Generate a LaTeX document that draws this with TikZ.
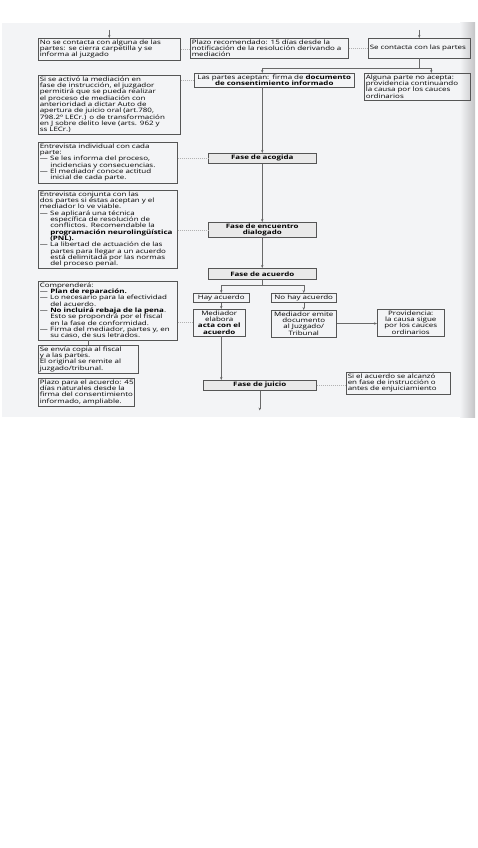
\documentclass[tikz,border=0pt]{standalone}
\usepackage{fontspec}
\setmainfont{Open Sans}[FakeStretch=1.33]
\usetikzlibrary{positioning,arrows.meta,calc}
\definecolor{fondo}{RGB}{243,244,246}
\definecolor{borde}{RGB}{85,85,85}
\definecolor{linea}{RGB}{105,105,105}
\definecolor{sombra}{RGB}{196,196,198}
\newcommand{\raya}{\makebox[1.75em][l]{—}}
\newcommand{\sang}{\hspace*{1.75em}}

\begin{document}
\begin{tikzpicture}[x=1pt,y=-1pt,
  caja/.style={draw=borde,line width=.5pt,anchor=north west,align=left,inner xsep=1.5pt,inner ysep=1.5pt,font=\fontsize{6}{6.3}\selectfont},
  centro/.style={caja,align=center},
  fase/.style={centro,fill=gray!17,font=\fontsize{6}{6.3}\selectfont\bfseries},
  flecha/.style={draw=linea,line width=.5pt,-{Stealth[length=3pt,width=2.4pt]}},
  trazo/.style={draw=linea,line width=.5pt},
  nota/.style={draw=gray!60,line width=.4pt,dash pattern=on 1pt off 1pt}]
\useasboundingbox (0,0) rectangle (477,848);
% fondo del escaneo
\fill[fondo] (2,23) rectangle (475,417);
\shade[left color=fondo,right color=sombra] (460,23) rectangle (475,417);

% fila superior
\node[caja,text width=139pt] (nocont) at (38,38) {\mbox{No se contacta con alguna de las}\\partes: se cierra carpetilla y se\\informa al juzgado};
\node[caja,text width=155pt] (plazo) at (190,38) {Plazo recomendado: 15 días desde la\\\mbox{notificación de la resolución derivando a}\\mediación};
\node[caja,text width=99pt,minimum height=20pt] (contacta) at (368,38) {\mbox{Se contacta con las partes}};

\node[caja,text width=139pt] (activo) at (38,75) {Si se activó la mediación en\\fase de instrucción, el juzgador\\permitirá que se pueda realizar\\el proceso de mediación con\\anterioridad a dictar Auto de\\apertura de juicio oral (art.780,\\\mbox{798.2º LECr.) o de transformación}\\en J sobre delito leve (arts. 962 y\\ss LECr.)};
\node[centro,text width=157pt] (aceptan) at (194,73) {\mbox{Las partes aceptan: firma de \textbf{documento}}\\\textbf{de consentimiento informado}};
\node[caja,text width=103pt] (noacepta) at (364,73) {Alguna parte no acepta:\\\mbox{providencia continuando}\\la causa por los cauces\\ordinarios};

% fases
\node[caja,text width=136pt] (individual) at (38,142) {Entrevista individual con cada\\parte:\\\raya Se les informa del proceso,\\\sang\mbox{incidencias y consecuencias.}\\\raya El mediador conoce actitud\\\sang inicial de cada parte.};
\node[fase,text width=105pt,minimum height=10pt] (acogida) at (208,153) {Fase de acogida};

\node[caja,text width=136pt] (conjunta) at (38,190) {Entrevista conjunta con las\\\mbox{dos partes si éstas aceptan y el}\\mediador lo ve viable.\\\raya Se aplicará una técnica\\\sang específica de resolución de\\\sang conflictos. Recomendable la\\\sang\mbox{\textbf{programación neurolingüística}}\\\sang \textbf{(PNL).}\\\raya\mbox{La libertad de actuación de las}\\\sang\mbox{partes para llegar a un acuerdo}\\\sang\mbox{está delimitada por las normas}\\\sang del proceso penal.};
\node[fase,text width=105pt] (encuentro) at (208,222) {Fase de encuentro\\dialogado};

\node[fase,text width=105pt,minimum height=11pt] (acuerdo) at (208,268) {Fase de acuerdo};
\node[caja,text width=136pt] (comprende) at (38,281) {Comprenderá:\\\raya \textbf{Plan de reparación.}\\\raya\mbox{Lo necesario para la efectividad}\\\sang del acuerdo.\\\raya\mbox{\textbf{No incluirá rebaja de la pena}.}\\\sang\mbox{Esto se propondrá por el fiscal}\\\sang en la fase de conformidad.\\\raya\mbox{Firma del mediador, partes y, en}\\\sang su caso, de sus letrados.};

\node[centro,text width=53pt] (hay) at (193,293) {Hay acuerdo};
\node[centro,text width=62pt] (nohay) at (271,293) {\mbox{No hay acuerdo}};
\node[centro,text width=49pt] (acta) at (193,309) {Mediador\\elabora\\\mbox{\textbf{acta con el}}\\\textbf{acuerdo}};
\node[centro,text width=62pt] (emite) at (271,310) {\mbox{Mediador emite}\\documento\\al Juzgado/\\Tribunal};
\node[centro,text width=64pt] (providencia) at (377,309) {Providencia:\\\mbox{la causa sigue}\\\mbox{por los cauces}\\ordinarios};

\node[caja,text width=97pt] (copia) at (38,345) {\mbox{Se envía copia al fiscal}\\y a las partes.\\\mbox{El original se remite al}\\juzgado/tribunal.};
\node[caja,text width=93pt] (plazoacu) at (38,378) {\mbox{Plazo para el acuerdo: 45}\\\mbox{días naturales desde la}\\\mbox{firma del consentimiento}\\\mbox{informado, ampliable.}};
\node[fase,text width=110pt,minimum height=10pt] (juicio) at (203,380) {Fase de juicio};
\node[caja,text width=101pt] (instruccion) at (346,372) {\mbox{Si el acuerdo se alcanzó}\\\mbox{en fase de instrucción o}\\\mbox{antes de enjuiciamiento}};

% conectores
\coordinate (entA) at ($(nocont.north)+(0,-8)$);
\coordinate (entC) at ($(contacta.north)+(0,-8)$);
\coordinate (bifC) at ($(contacta.south)+(0,10)$);
\coordinate (bifK) at ($(acuerdo.south)+(0,6)$);
\coordinate (salida) at ($(juicio.south)+(0,20)$);
\begin{scope}[flecha]
  \draw (entA) -- (nocont.north);
  \draw (entC) -- (contacta.north);
  \draw (bifC) -| (acogida.north |- aceptan.north);
  \draw (bifC) -| ([xshift=14pt]noacepta.north);
  \draw (acogida.north |- aceptan.south) -- (acogida.north);
  \draw (acogida) -- (encuentro);
  \draw (encuentro) -- (acuerdo);
  \draw (bifK) -| (hay.north);
  \draw (bifK) -| (nohay.north);
  \draw (hay.south) -- (hay.south |- acta.north);
  \draw (nohay.south) -- (nohay.south |- emite.north);
  \draw (emite.east) -- (emite.east -| providencia.west);
  \draw (hay.south |- acta.south) -- (hay.south |- juicio.north);
  \draw (juicio.south) -- (salida);
\end{scope}
\draw[trazo] (contacta.south) -- (bifC);
\draw[trazo] (acuerdo.south) -- (bifK);
\draw[trazo] (copia.north) -- (copia.north |- comprende.south);
\begin{scope}[nota]
  \draw (nocont.east) -- (nocont.east -| plazo.west);
  \draw (plazo.east) -- (plazo.east -| contacta.west);
  \draw (aceptan.west -| activo.east) -- (aceptan.west);
  \draw (acogida.west -| individual.east) -- (acogida.west);
  \draw (encuentro.west -| conjunta.east) -- (encuentro.west);
  \draw (acta.west -| comprende.east) -- (acta.west);
  \draw (juicio.east) -- (juicio.east -| instruccion.west);
\end{scope}
\end{tikzpicture}
\end{document}
